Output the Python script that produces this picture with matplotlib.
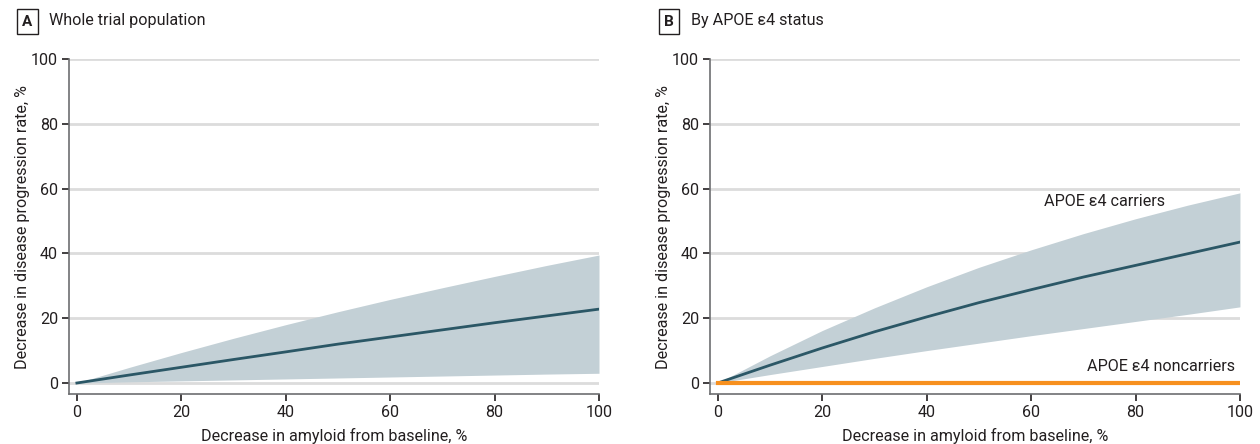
import numpy as np
import matplotlib.pyplot as plt

# values, every 10 % of amyloid decrease
amyloid = [0, 10, 20, 30, 40, 50, 60, 70, 80, 90, 100]

whole_mean = [0, 2.45, 4.85, 7.25, 9.6, 12.0, 14.2, 16.4, 18.6, 20.7, 22.8]
whole_upper = [0, 4.8, 9.4, 13.8, 18.0, 22.0, 25.8, 29.4, 32.9, 36.3, 39.5]
whole_lower = [0, 0.35, 0.65, 0.95, 1.25, 1.55, 1.85, 2.15, 2.45, 2.75, 3.0]

carrier_mean = [0, 5.5, 10.8, 15.8, 20.4, 24.8, 28.8, 32.7, 36.3, 39.9, 43.5]
carrier_upper = [0, 8.4, 16.2, 23.2, 29.7, 35.7, 41.1, 46.1, 50.7, 54.9, 58.7]
carrier_lower = [0, 2.6, 5.1, 7.6, 10.0, 12.3, 14.6, 16.8, 19.0, 21.2, 23.5]

noncarrier_mean = [0, 0, 0, 0, 0, 0, 0, 0, 0, 0, 0]

plt.rcParams['font.family'] = ['Roboto', 'DejaVu Sans']

band_col = '#c3d0d6'
line_col = '#2b5766'
orange = '#f7901e'
txt = '#231f20'
fs = 11.6

fig = plt.figure(figsize=(12.6, 4.44), dpi=100)
axA = fig.add_axes([0.0548, 0.1126, 0.4206, 0.7544])
axB = fig.add_axes([0.5635, 0.1126, 0.4206, 0.7544])


def style(ax):
    ax.set_xlim(-1.5, 100)
    ax.set_ylim(-3.4, 100)
    ax.set_xticks([0, 20, 40, 60, 80, 100])
    ax.set_yticks([0, 20, 40, 60, 80, 100])
    for y in [0, 20, 40, 60, 80, 100]:
        ax.plot([-1.5, 100], [y, y], color='#dcdcdc', lw=2, zorder=0)
    for s in ['top', 'right']:
        ax.spines[s].set_visible(False)
    for s in ['left', 'bottom']:
        ax.spines[s].set_color('#6d6e71')
        ax.spines[s].set_linewidth(1.2)
    ax.tick_params(length=5, width=1.2, color='#231f20', labelsize=fs,
                   labelcolor=txt, pad=3)
    ax.set_xlabel('Decrease in amyloid from baseline, %', fontsize=fs,
                  color=txt, labelpad=6)
    ax.set_ylabel('Decrease in disease progression rate, %', fontsize=fs,
                  color=txt, labelpad=1)


style(axA)
axA.fill_between(amyloid, whole_lower, whole_upper, color=band_col, lw=0, zorder=1)
axA.plot(amyloid, whole_mean, color=line_col, lw=2, zorder=2)

style(axB)
axB.fill_between(amyloid, carrier_lower, carrier_upper, color=band_col, lw=0, zorder=1)
axB.plot(amyloid, carrier_mean, color=line_col, lw=2, zorder=2)
axB.plot(amyloid, noncarrier_mean, color=orange, lw=3, zorder=3)
axB.text(74, 56, 'APOE ε4 carriers', fontsize=fs, color=txt, ha='center', va='center')
axB.text(99, 5.0, 'APOE ε4 noncarriers', fontsize=fs, color=txt, ha='right', va='center')

# panel headers
box = dict(boxstyle='square,pad=0.35', fc='white', ec='#231f20', lw=1)
fig.text(27.5 / 1260, 1 - 21.5 / 444, 'A', fontsize=11, weight='bold', color=txt,
         ha='center', va='center', bbox=box)
fig.text(49 / 1260, 1 - 21 / 444, 'Whole trial population', fontsize=fs,
         color=txt, ha='left', va='center')
fig.text(669 / 1260, 1 - 21.5 / 444, 'B', fontsize=11, weight='bold', color=txt,
         ha='center', va='center', bbox=box)
fig.text(691 / 1260, 1 - 21 / 444, 'By APOE ε4 status', fontsize=fs,
         color=txt, ha='left', va='center')

fig.savefig('out.png', dpi=100)
